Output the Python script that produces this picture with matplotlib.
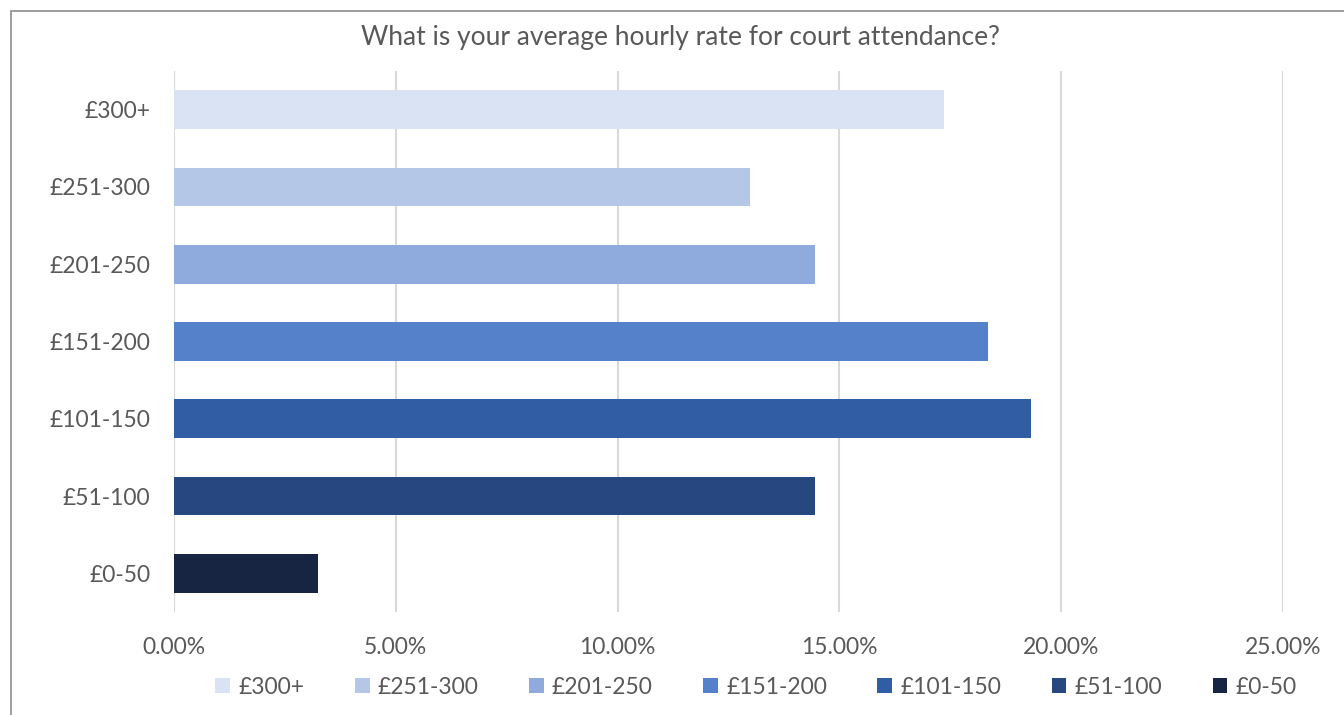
import matplotlib.pyplot as plt
from matplotlib.patches import Rectangle, Patch
from matplotlib.ticker import PercentFormatter

plt.rcParams['font.family'] = ['Lato', 'DejaVu Sans']

# hourly rate bands, top of chart first
bands = ["£300+", "£251-300", "£201-250", "£151-200", "£101-150", "£51-100", "£0-50"]
share = [17.36, 12.98, 14.45, 18.35, 19.32, 14.45, 3.24]
colours = ["#DAE3F3", "#B4C7E7", "#8FAADC", "#5580CA", "#315DA4", "#264780", "#172542"]

grey = "#595959"

fig = plt.figure(figsize=(13.44, 7.15), dpi=100)
ax = fig.add_axes([174/1344, 1 - 612/715, (1283-174)/1344, (612-71)/715])

ypos = list(range(len(bands)))
ax.barh(ypos, share, height=0.5, color=colours, zorder=3)
ax.set_ylim(len(bands) - 0.5, -0.5)
ax.set_yticks(ypos)
ax.set_yticklabels(bands)

ax.set_xlim(0, 25)
ax.set_xticks([0, 5, 10, 15, 20, 25])
ax.xaxis.set_major_formatter(PercentFormatter(decimals=2))
ax.grid(axis="x", color="#D9D9D9", linewidth=1.5, zorder=0)
for s in ax.spines.values():
    s.set_visible(False)
ax.tick_params(axis="both", length=0, labelsize=16.5, labelcolor=grey)
ax.tick_params(axis="x", pad=18)
ax.tick_params(axis="y", pad=17)

fig.text(680/1344, 1 - 38/715, "What is your average hourly rate for court attendance?",
         ha="center", va="center", fontsize=19, color=grey)

handles = [Patch(facecolor=c, label=b) for b, c in zip(bands, colours)]
fig.legend(handles=handles, loc="center", bbox_to_anchor=(756/1344, 1 - 687/715),
           ncol=7, frameon=False, fontsize=16.5, labelcolor=grey,
           handlelength=0.65, handleheight=0.65, handletextpad=0.35,
           columnspacing=2.2)

# chart border
fig.patches.append(Rectangle((11/1344, -0.05), 1.1, 1 - 11/715 + 0.05,
                             transform=fig.transFigure, fill=False,
                             edgecolor="#8C8C8C", linewidth=1.2))

fig.savefig("out.png", dpi=100)
